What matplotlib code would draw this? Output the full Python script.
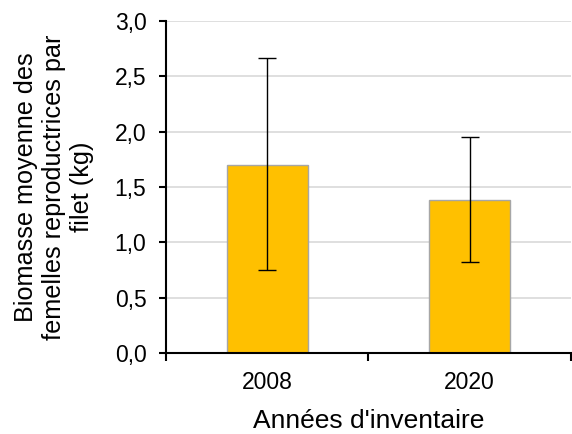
import matplotlib.pyplot as plt
import numpy as np

plt.rcParams['font.family'] = ['Liberation Sans', 'DejaVu Sans']

annees = ["2008", "2020"]
biomasse = [1.70, 1.38]
err_haut = [2.66, 1.95]
err_bas = [0.75, 0.82]

x = np.arange(len(annees))
yerr = [np.array(biomasse) - np.array(err_bas), np.array(err_haut) - np.array(biomasse)]

fig = plt.figure(figsize=(5.72, 4.34), dpi=100)
ax = fig.add_axes([0.290, 0.187, 0.708, 0.765])

ax.bar(x, biomasse, width=0.40, color="#FFC000", edgecolor="#A6A6A6", linewidth=1, zorder=2)
ax.errorbar(x, biomasse, yerr=yerr, fmt="none", ecolor="black", elinewidth=1, capsize=6.5, capthick=1, zorder=3)

ax.set_xlim(-0.5, 1.5)
ax.set_ylim(0, 3.0)
ax.set_yticks(np.arange(0, 3.01, 0.5))
ax.set_yticklabels([f"{v:.1f}".replace(".", ",") for v in np.arange(0, 3.01, 0.5)])
ax.set_xticks(x)
ax.set_xticklabels(annees)
ax.set_xticks([-0.5, 0.5, 1.5], minor=True)
ax.tick_params(axis="x", which="major", length=0, pad=13)
ax.tick_params(axis="x", which="minor", length=6, width=1.5, direction="out")
ax.tick_params(axis="y", length=5, width=1.5, direction="out", pad=9)
ax.tick_params(labelsize=16.5)

ax.grid(axis="y", color="#D9D9D9", linewidth=1.2, zorder=0)
ax.set_axisbelow(True)

for s in ["top", "right"]:
    ax.spines[s].set_visible(False)
ax.spines["left"].set_linewidth(1.5)
ax.spines["bottom"].set_linewidth(1.5)

ax.set_xlabel("Années d'inventaire", fontsize=19, labelpad=11)
ax.set_ylabel("Biomasse moyenne des\nfemelles reproductrices par\nfilet (kg)", fontsize=18.2, labelpad=15)

fig.savefig("out.png", dpi=100)
